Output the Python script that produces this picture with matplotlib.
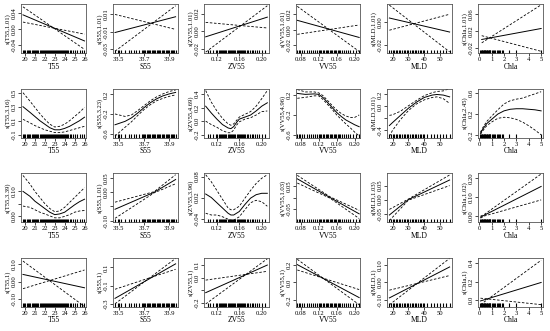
import matplotlib.pyplot as plt
import numpy as np

plt.rcParams['font.family'] = ['Liberation Serif', 'DejaVu Serif']
plt.rcParams['font.size'] = 5

variables = ['T55', 'S55', 'ZV55', 'VV55', 'MLD', 'Chla']
edf_rows = [
    ['1.01', '1.01', '1.01', '1.01', '1.01', '1.01'],
    ['3.16', '3.23', '4.69', '4.96', '3.01', '2.45'],
    ['3.39', '1.01', '3.96', '1.03', '1.03', '1.02'],
    ['1', '1', '1', '1', '1', '1'],
]

x_limits = [(19.6, 26.15), (33.45, 33.965), (0.097, 0.213), (0.068, 0.213), (16.5, 57.5), (-0.1, 5.15)]
x_ticks = [[20, 21, 22, 23, 24, 25, 26], [33.5, 33.7, 33.9], [0.12, 0.16, 0.20],
           [0.08, 0.12, 0.16, 0.20], [20, 30, 40, 50], [0, 1, 2, 3, 4, 5]]
x_ticklabels = [['20', '21', '22', '23', '24', '25', '26'], ['33.5', '33.7', '33.9'],
                ['0.12', '0.16', '0.20'], ['0.08', '0.12', '0.16', '0.20'],
                ['20', '30', '40', '50'], ['0', '1', '2', '3', '4', '5']]

# rug (observed covariate values)
rug_T55 = [19.8, 19.9, 20.0, 20.2, 20.3, 20.4, 20.5, 20.7, 20.8, 20.9, 21.0, 21.1, 21.2, 21.3,
           21.5, 21.6, 21.7, 21.8, 21.9, 22.0, 22.1, 22.2, 22.3, 22.4, 22.5, 22.6, 22.7, 22.8,
           22.9, 23.0, 23.1, 23.2, 23.3, 23.4, 23.5, 23.6, 23.7, 23.8, 23.9, 24.0, 24.1, 24.2,
           24.3, 24.5, 24.6, 24.8, 25.0, 25.2, 25.5, 25.7, 25.9]
rug_S55 = [33.47, 33.49, 33.50, 33.52, 33.55, 33.58, 33.60, 33.62, 33.64, 33.66, 33.68, 33.69,
           33.70, 33.71, 33.72, 33.73, 33.74, 33.75, 33.76, 33.77, 33.78, 33.79, 33.80, 33.81,
           33.82, 33.83, 33.84, 33.85, 33.86, 33.87, 33.88, 33.89, 33.90, 33.91, 33.92, 33.93,
           33.94, 33.95]
rug_ZV55 = [0.104, 0.108, 0.113, 0.118, 0.121, 0.123, 0.125, 0.127, 0.129, 0.131, 0.133, 0.135,
            0.137, 0.139, 0.141, 0.143, 0.145, 0.147, 0.149, 0.151, 0.153, 0.155, 0.157, 0.159,
            0.161, 0.163, 0.165, 0.167, 0.169, 0.171, 0.173, 0.176, 0.179, 0.182, 0.185, 0.188,
            0.192, 0.196, 0.200, 0.205]
rug_VV55 = [0.072, 0.075, 0.079, 0.083, 0.088, 0.093, 0.098, 0.103, 0.108, 0.112, 0.116, 0.120,
            0.123, 0.126, 0.129, 0.132, 0.135, 0.138, 0.141, 0.144, 0.147, 0.150, 0.153, 0.156,
            0.159, 0.162, 0.165, 0.168, 0.172, 0.176, 0.180, 0.185, 0.190, 0.196, 0.203, 0.209]
rug_MLD = [18, 19, 20, 21, 22, 23, 24, 25, 26, 27, 28, 29, 30, 31, 32, 33, 34, 35, 36, 37, 38,
           39, 40, 42, 44, 46, 48, 50, 52, 54, 56]
rug_Chla = [0.1, 0.15, 0.2, 0.25, 0.3, 0.35, 0.4, 0.45, 0.5, 0.55, 0.6, 0.65, 0.7, 0.75, 0.8,
            0.85, 0.9, 1.0, 1.1, 1.2, 1.3, 1.4, 1.5, 1.6, 1.7, 1.8, 1.9, 2.4, 3.0, 5.0]
rugs = [rug_T55, rug_S55, rug_ZV55, rug_VV55, rug_MLD, rug_Chla]

# ---- row 1 (linear, edf ~1) ----
r1_x = [[19.8, 26.0], [33.47, 33.95], [0.10, 0.21], [0.072, 0.21], [18, 56], [0.2, 5.0]]
r1_fit = [[0.035, -0.030], [-0.011, 0.0067], [-0.0065, 0.016], [0.012, -0.010], [0.0037, -0.0086], [0.000, 0.026]]
r1_up = [[0.055, -0.051], [-0.032, 0.019], [-0.024, 0.029], [0.030, -0.028], [0.015, -0.026], [-0.008, 0.082]]
r1_lo = [[0.017, -0.013], [0.0093, -0.0075], [0.010, 0.0036], [-0.006, 0.006], [-0.007, 0.007], [0.009, -0.028]]

# ---- row 2 (smooth) ----
x_T55 = [19.8, 20.5, 21, 21.5, 22, 22.5, 23, 23.5, 24, 24.5, 25, 25.5, 26]
x_S55 = [33.47, 33.55, 33.6, 33.65, 33.7, 33.75, 33.8, 33.85, 33.9, 33.95]
x_ZV55 = [0.10, 0.11, 0.12, 0.13, 0.14, 0.145, 0.15, 0.155, 0.16, 0.17, 0.18, 0.19, 0.20, 0.21]
x_VV55 = [0.072, 0.09, 0.11, 0.12, 0.13, 0.14, 0.15, 0.16, 0.17, 0.18, 0.19, 0.20, 0.21]
x_MLD = [18, 20, 25, 30, 35, 40, 45, 48, 52, 56]
x_Chla = [0.1, 0.3, 0.6, 1, 1.5, 2, 2.5, 3, 3.5, 4, 4.5, 5]

r2_fit = [
    [0.30, 0.22, 0.16, 0.10, 0.05, 0.0, -0.03, -0.03, -0.01, 0.02, 0.06, 0.10, 0.15],
    [-0.42, -0.35, -0.28, -0.18, -0.07, 0.03, 0.11, 0.17, 0.21, 0.24],
    [0.22, 0.12, 0.03, -0.05, -0.10, -0.11, -0.08, -0.02, 0.03, 0.06, 0.09, 0.15, 0.22, 0.27],
    [0.24, 0.22, 0.23, 0.22, 0.15, 0.05, -0.05, -0.15, -0.23, -0.30, -0.35, -0.40, -0.44],
    [-0.32, -0.27, -0.15, -0.03, 0.07, 0.15, 0.19, 0.20, 0.19, 0.16],
    [-0.16, -0.08, 0.02, 0.10, 0.20, 0.26, 0.29, 0.30, 0.30, 0.29, 0.28, 0.26],
]
r2_up = [
    [0.50, 0.38, 0.29, 0.20, 0.12, 0.05, 0.01, 0.02, 0.05, 0.10, 0.16, 0.22, 0.29],
    [-0.20, -0.25, -0.22, -0.13, -0.03, 0.07, 0.15, 0.21, 0.26, 0.29],
    [0.45, 0.28, 0.15, 0.04, -0.04, -0.06, -0.04, 0.01, 0.06, 0.10, 0.14, 0.22, 0.33, 0.45],
    [0.32, 0.27, 0.27, 0.25, 0.19, 0.09, -0.01, -0.10, -0.17, -0.22, -0.25, -0.25, -0.20],
    [-0.15, -0.14, -0.08, 0.01, 0.10, 0.18, 0.23, 0.25, 0.26, 0.30],
    [-0.14, -0.05, 0.06, 0.16, 0.28, 0.39, 0.45, 0.48, 0.50, 0.54, 0.58, 0.62],
]
r2_lo = [
    [0.12, 0.07, 0.03, 0.0, -0.03, -0.05, -0.07, -0.07, -0.06, -0.04, -0.02, 0.0, 0.02],
    [-0.65, -0.47, -0.36, -0.23, -0.11, -0.01, 0.07, 0.12, 0.16, 0.19],
    [0.0, -0.05, -0.09, -0.14, -0.17, -0.17, -0.13, -0.06, -0.01, 0.03, 0.05, 0.09, 0.14, 0.15],
    [0.14, 0.16, 0.19, 0.19, 0.11, 0.01, -0.09, -0.20, -0.29, -0.38, -0.46, -0.55, -0.63],
    [-0.50, -0.40, -0.22, -0.07, 0.04, 0.11, 0.15, 0.16, 0.13, 0.05],
    [-0.18, -0.11, -0.02, 0.05, 0.12, 0.14, 0.13, 0.10, 0.05, -0.02, -0.10, -0.19],
]

# ---- row 3 ----
r3_x = [x_T55, [33.47, 33.78, 33.95], x_ZV55, [0.072, 0.145, 0.21], [18, 30, 56], [0.1, 0.4, 5.0]]
r3_fit = [
    [0.10, 0.08, 0.06, 0.045, 0.03, 0.015, 0.005, 0.008, 0.015, 0.03, 0.045, 0.058, 0.068],
    [-0.06, 0.0, 0.045],
    [0.03, 0.02, 0.005, -0.01, -0.025, -0.03, -0.03, -0.025, -0.02, 0.0, 0.018, 0.028, 0.032, 0.032],
    [0.08, 0.0, -0.07],
    [-0.055, 0.0, 0.07],
    [-0.005, 0.005, 0.155],
]
r3_up = [
    [0.165, 0.13, 0.10, 0.075, 0.05, 0.03, 0.017, 0.02, 0.035, 0.055, 0.075, 0.095, 0.115],
    [-0.035, 0.002, 0.062],
    [0.085, 0.065, 0.04, 0.015, -0.01, -0.015, -0.015, -0.01, -0.005, 0.018, 0.04, 0.06, 0.075, 0.085],
    [0.095, 0.003, -0.055],
    [-0.035, 0.002, 0.088],
    [0.0, 0.009, 0.22],
]
r3_lo = [
    [0.04, 0.035, 0.025, 0.015, 0.008, 0.0, -0.008, -0.008, -0.002, 0.005, 0.015, 0.02, 0.022],
    [-0.092, -0.002, 0.03],
    [-0.025, -0.03, -0.03, -0.035, -0.042, -0.045, -0.045, -0.04, -0.035, -0.015, 0.005, 0.012, 0.008, -0.005],
    [0.062, -0.003, -0.09],
    [-0.075, -0.002, 0.05],
    [-0.01, 0.001, 0.085],
]

# ---- row 4 (linear, edf = 1) ----
r4_x = [[19.8, 26.0], [33.47, 33.95], [0.10, 0.21], [0.072, 0.21], [18, 56], [0.1, 5.0]]
r4_fit = [[0.04, -0.035], [-0.24, 0.14], [-0.12, 0.10], [0.20, -0.17], [-0.09, 0.09], [-0.01, 0.19]]
r4_up = [[0.115, -0.14], [-0.30, 0.20], [-0.21, 0.15], [0.26, -0.25], [-0.13, 0.14], [-0.05, 0.43]]
r4_lo = [[-0.04, 0.065], [-0.14, 0.08], [-0.02, 0.05], [0.14, -0.08], [-0.045, 0.04], [0.02, -0.05]]

rows_x = [r1_x, [x_T55, x_S55, x_ZV55, x_VV55, x_MLD, x_Chla], r3_x, r4_x]
rows_fit = [r1_fit, r2_fit, r3_fit, r4_fit]
rows_up = [r1_up, r2_up, r3_up, r4_up]
rows_lo = [r1_lo, r2_lo, r3_lo, r4_lo]

y_limits = [
    [(-0.060, 0.062), (-0.034, 0.021), (-0.025, 0.031), (-0.030, 0.033), (-0.027, 0.016), (-0.032, 0.084)],
    [(-0.14, 0.56), (-0.68, 0.32), (-0.24, 0.48), (-0.66, 0.34), (-0.52, 0.30), (-0.24, 0.68)],
    [(-0.025, 0.175), (-0.105, 0.068), (-0.05, 0.09), (-0.105, 0.105), (-0.08, 0.095), (-0.03, 0.225)],
    [(-0.14, 0.135), (-0.33, 0.21), (-0.23, 0.16), (-0.27, 0.28), (-0.14, 0.145), (-0.07, 0.46)],
]
y_ticks = [
    [[-0.04, 0.0, 0.04], [-0.03, -0.01, 0.01], [-0.02, 0.0, 0.02], [-0.02, 0.0, 0.02], [-0.02, 0.0], [-0.02, 0.02, 0.06]],
    [[-0.1, 0.1, 0.3, 0.5], [-0.6, -0.2, 0.2], [-0.2, 0.0, 0.2, 0.4], [-0.6, -0.2, 0.2], [-0.4, -0.2, 0.0, 0.2], [-0.2, 0.2, 0.6]],
    [[0.0, 0.05, 0.10], [-0.10, -0.05, 0.0, 0.05], [-0.04, 0.02, 0.08], [-0.05, 0.0, 0.05], [-0.05, 0.0, 0.05], [0.0, 0.10, 0.20]],
    [[-0.10, 0.0, 0.10], [-0.3, -0.1, 0.1], [-0.2, -0.1, 0.0, 0.1], [-0.2, 0.0, 0.2], [-0.10, 0.0, 0.10], [0.0, 0.2, 0.4]],
]
y_ticklabels = [
    [['-0.04', '0.00', '0.04'], ['-0.03', '-0.01', '0.01'], ['-0.02', '0.00', '0.02'], ['-0.02', '0.00', '0.02'], ['-0.02', '0.00'], ['-0.02', '0.02', '0.06']],
    [['-0.1', '0.1', '0.3', '0.5'], ['-0.6', '-0.2', '0.2'], ['-0.2', '0.0', '0.2', '0.4'], ['-0.6', '-0.2', '0.2'], ['-0.4', '', '0.0', '0.2'], ['-0.2', '0.2', '0.6']],
    [['0.00', '', '0.10'], ['-0.10', '', '0.00', '0.05'], ['-0.04', '0.02', '0.08'], ['-0.05', '', '0.05'], ['-0.05', '0.00', '0.05'], ['0.00', '0.10', '0.20']],
    [['-0.10', '0.00', '0.10'], ['-0.3', '-0.1', '0.1'], ['-0.2', '', '0.0', '0.1'], ['-0.2', '0.0', '0.2'], ['-0.10', '0.00', '0.10'], ['0.0', '0.2', '0.4']],
]

W, H = 550, 331
fig = plt.figure(figsize=(W / 100, H / 100), dpi=100)

col_left = [21, 112.5, 204, 295.5, 387, 478]
row_top = [4, 88.5, 173, 257.5]
pw, ph = 65, 49

for r in range(4):
    for c in range(6):
        ax = fig.add_axes([col_left[c] / W, 1 - (row_top[r] + ph) / H, pw / W, ph / H])
        x = rows_x[r][c]
        ax.plot(x, rows_fit[r][c], color='black', lw=0.7)
        ax.plot(x, rows_up[r][c], color='black', lw=0.6, ls=(0, (3, 2)))
        ax.plot(x, rows_lo[r][c], color='black', lw=0.6, ls=(0, (3, 2)))
        rug = rugs[c]
        ax.plot(rug, [0.03] * len(rug), ls='none', marker='|', ms=2.2, mew=0.8,
                color='black', transform=ax.get_xaxis_transform())
        ax.set_xlim(*x_limits[c])
        ax.set_ylim(*y_limits[r][c])
        ax.set_xticks(x_ticks[c])
        ax.set_xticklabels(x_ticklabels[c])
        ax.set_yticks(y_ticks[r][c])
        ax.set_yticklabels(y_ticklabels[r][c], rotation=90, va='center')
        ax.tick_params(length=2, width=0.5, pad=1, labelsize=4.8)
        for s in ax.spines.values():
            s.set_linewidth(0.6)
            s.set_color('#555555')
        ax.set_xlabel(variables[c], fontsize=5.5, labelpad=0.5)
        ax.set_ylabel('s(%s,%s)' % (variables[c], edf_rows[r][c]), fontsize=4.8, labelpad=0.5)

fig.savefig('out.png', dpi=100)
